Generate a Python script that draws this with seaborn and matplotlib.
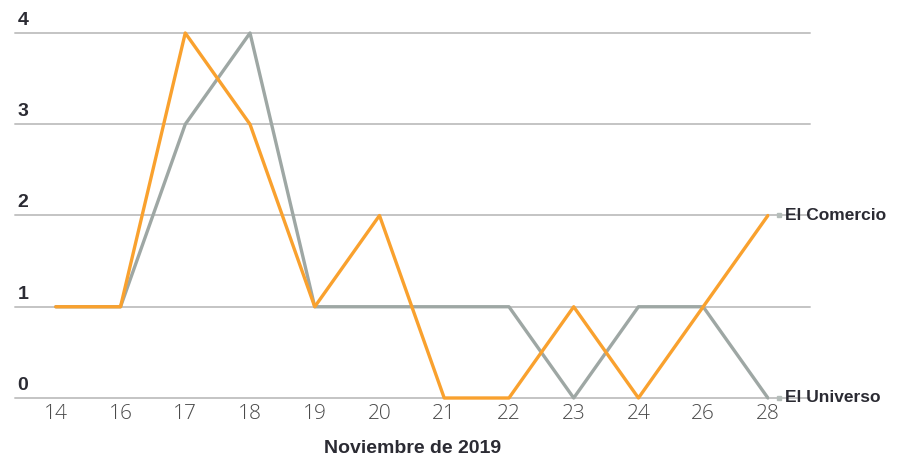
import numpy as np
import pandas as pd
import seaborn as sns
import matplotlib.pyplot as plt
from matplotlib import transforms

dias = ["14", "16", "17", "18", "19", "20", "21", "22", "23", "24", "26", "28"]
el_comercio = [1, 1, 4, 3, 1, 2, 0, 0, 1, 0, 1, 2]
el_universo = [1, 1, 3, 4, 1, 1, 1, 1, 0, 1, 1, 0]
series = ["El Universo", "El Comercio"]
colores = {"El Universo": "#9ea7a4", "El Comercio": "#f9a12e"}

df = pd.DataFrame({
    "pos": list(range(len(dias))) * 2,
    "valor": el_universo + el_comercio,
    "medio": ["El Universo"] * len(dias) + ["El Comercio"] * len(dias),
})

sns.set_theme(style="white")
plt.rcParams["font.family"] = ["Liberation Sans", "DejaVu Sans"]

fig = plt.figure(figsize=(9.07, 4.72), dpi=100)
ax = fig.add_axes([15 / 907, 74 / 472, 795 / 907, 365 / 472])

for y in range(5):
    ax.axhline(y, color="#c4c4c4", lw=1.4, zorder=0, clip_on=False)

sns.lineplot(data=df, x="pos", y="valor", hue="medio", hue_order=series,
             palette=colores, lw=2.4, legend=False, ax=ax, sort=False)
for ln in ax.lines:
    ln.set_clip_on(False)

ax.set_xlim(-0.63, 11.65)
ax.set_ylim(0, 4)
ax.set_xticks(range(len(dias)))
ax.set_xticklabels(dias, fontsize=15, color="#4a4a4a",
                   family=["Open Sans", "DejaVu Sans"], fontweight="light")
ax.tick_params(axis="x", length=0, pad=4)
ax.set_yticks([])
for s in ax.spines.values():
    s.set_visible(False)
ax.set_xlabel("Noviembre de 2019", fontsize=14, fontweight="bold",
              color="#2b2b33", labelpad=12)
ax.set_ylabel("")

trans = transforms.blended_transform_factory(ax.transAxes, ax.transData)
for y in range(5):
    ax.annotate(str(y), xy=(0.003, y), xycoords=trans, xytext=(0, 3),
                textcoords="offset points", ha="left", va="bottom",
                fontsize=14, fontweight="bold", color="#2b2b33")

ultimo = len(dias) - 1
for medio, vals in [("El Comercio", el_comercio), ("El Universo", el_universo)]:
    ax.plot([ultimo + 0.03, ultimo + 0.2], [vals[-1], vals[-1]],
            color="#c4c4c4", lw=1.4, clip_on=False)
    ax.plot([ultimo + 0.17], [vals[-1]], marker="s", ms=3.5,
            color="#b5bdba", clip_on=False)
    ax.annotate(medio, xy=(ultimo + 0.27, vals[-1]), xycoords="data",
                ha="left", va="center", fontsize=12.5, fontweight="bold",
                color="#2b2b33", annotation_clip=False)

fig.savefig("out.png", dpi=100)
